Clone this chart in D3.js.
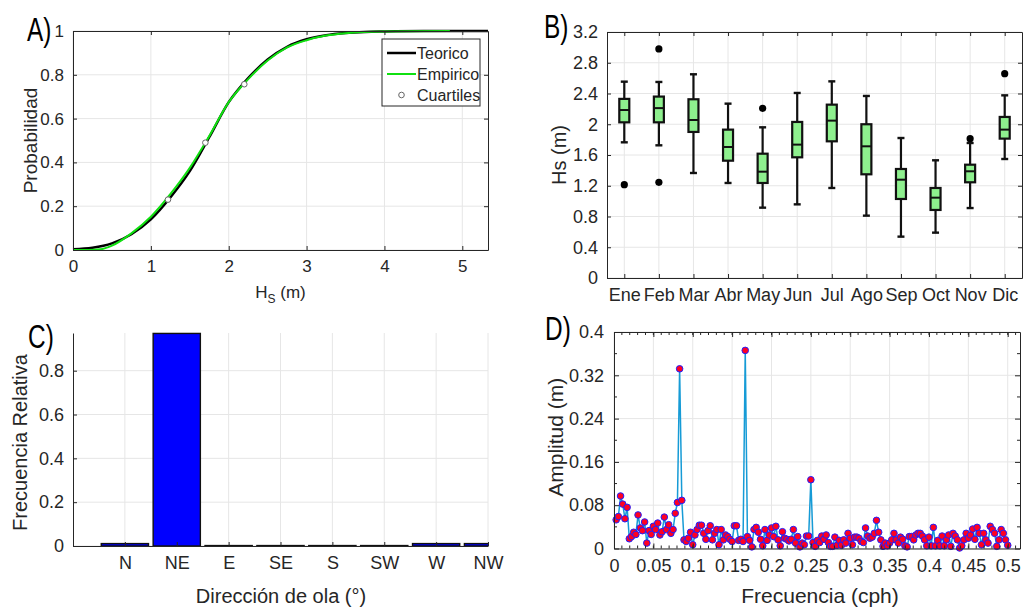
<!DOCTYPE html>
<html>
<head>
<meta charset="utf-8">
<script src="https://cdn.jsdelivr.net/npm/d3@7"></script>
<style>
body { margin: 0; background: #fff; }
svg text { font-family: "Liberation Sans", Arial, sans-serif; fill: #262626; }
.panel-tag { fill: #000; }
</style>
</head>
<body>
<svg id="fig" width="1023" height="609"></svg>
<script>
// ---- A) distribucion de Hs
var hsTeo = [0, 0.25, 0.5, 0.75, 1.0, 1.25, 1.5, 1.75, 2.0, 2.25, 2.5, 2.75, 3.0, 3.25, 3.5, 3.75, 4.0, 4.5, 5.33];
var pTeo  = [0.003, 0.01, 0.03, 0.072, 0.14, 0.24, 0.36, 0.515, 0.675, 0.785, 0.87, 0.928, 0.962, 0.981, 0.991, 0.996, 0.998, 1.0, 1.0];
var hsEmp = [0, 0.2, 0.35, 0.5, 0.75, 1.0, 1.25, 1.5, 1.75, 2.0, 2.25, 2.5, 2.75, 3.0, 3.25, 3.5, 4.0, 4.84];
var pEmp  = [0, 0, 0.003, 0.02, 0.076, 0.152, 0.255, 0.375, 0.52, 0.675, 0.78, 0.865, 0.925, 0.958, 0.979, 0.99, 0.998, 1.0];
var hsCuart = [1.22, 1.7, 2.2];
var pCuart  = [0.23, 0.49, 0.757];

// ---- B) Hs mensual
var meses = ["Ene", "Feb", "Mar", "Abr", "May", "Jun", "Jul", "Ago", "Sep", "Oct", "Nov", "Dic"];
var bigoteInf = [1.765, 1.726, 1.366, 1.236, 0.915, 0.958, 1.171, 0.811, 0.538, 0.59, 0.91, 1.548];
var cuartil1  = [2.025, 2.025, 1.90, 1.526, 1.236, 1.57, 1.778, 1.349, 1.028, 0.885, 1.245, 1.813];
var mediana   = [2.185, 2.21, 2.055, 1.704, 1.383, 1.735, 2.047, 1.713, 1.279, 1.045, 1.388, 1.93];
var cuartil3  = [2.33, 2.36, 2.325, 1.93, 1.617, 2.03, 2.255, 2.0, 1.418, 1.171, 1.474, 2.095];
var bigoteSup = [2.554, 2.55, 2.65, 2.268, 1.96, 2.407, 2.558, 2.368, 1.821, 1.531, 1.756, 2.376];
var atipMes = ["Ene", "Feb", "Feb", "May", "Nov", "Dic"];
var atipVal = [1.214, 2.98, 1.245, 2.207, 1.813, 2.658];

// ---- C) direccion
var direcciones = ["N", "NE", "E", "SE", "S", "SW", "W", "NW"];
var frecRel = [0.011, 0.97, 0.002, 0.002, 0.002, 0.002, 0.011, 0.011];

// ---- D) espectro de amplitud, f = k/360 cph, k = 1..180
var amplitud = [
  0.053, 0.059, 0.097, 0.082, 0.055, 0.076, 0.018, 0.022, 0.030, 0.026,
  0.062, 0.038, 0.033, 0.049, 0.010, 0.033, 0.026, 0.041, 0.035, 0.047,
  0.025, 0.031, 0.058, 0.035, 0.044, 0.028, 0.035, 0.065, 0.085, 0.332,
  0.089, 0.016, 0.013, 0.019, 0.030, 0.007, 0.025, 0.035, 0.043, 0.043,
  0.028, 0.017, 0.033, 0.042, 0.016, 0.028, 0.035, 0.007, 0.035, 0.016,
  0.025, 0.022, 0.017, 0.013, 0.042, 0.042, 0.015, 0.017, 0.013, 0.366,
  0.022, 0.015, 0.003, 0.035, 0.039, 0.030, 0.017, 0.005, 0.035, 0.015,
  0.025, 0.038, 0.022, 0.041, 0.016, 0.005, 0.031, 0.019, 0.017, 0.014,
  0.017, 0.035, 0.010, 0.022, 0.003, 0.010, 0.007, 0.023, 0.023, 0.127,
  0.011, 0.004, 0.015, 0.011, 0.023, 0.017, 0.025, 0.011, 0.004, 0.004,
  0.021, 0.006, 0.015, 0.006, 0.016, 0.010, 0.028, 0.019, 0.007, 0.021,
  0.021, 0.019, 0.013, 0.011, 0.038, 0.023, 0.019, 0.021, 0.028, 0.052,
  0.030, 0.016, 0.004, 0.010, 0.005, 0.010, 0.016, 0.028, 0.016, 0.010,
  0.021, 0.017, 0.005, 0.003, 0.022, 0.022, 0.016, 0.025, 0.028, 0.028,
  0.023, 0.016, 0.005, 0.021, 0.005, 0.039, 0.005, 0.015, 0.005, 0.023,
  0.005, 0.016, 0.025, 0.004, 0.028, 0.023, 0.016, 0.001, 0.005, 0.016,
  0.028, 0.019, 0.025, 0.036, 0.017, 0.039, 0.028, 0.007, 0.028, 0.016,
  0.010, 0.041, 0.035, 0.028, 0.004, 0.016, 0.035, 0.028, 0.016, 0.006
];
var frecuencia = amplitud.map(function(d, i) { return (i + 1) / 360; });

var svg = d3.select("#fig");
var axisCol = "#262626", gridCol = "#e6e6e6";

function panel(left, top, w, h) {
  return svg.append("g").attr("transform", "translate(" + left + "," + top + ")");
}

// grid lines
function grid(g, x, y, w, h, xt, yt) {
  g.append("g").selectAll("line").data(xt).enter().append("line")
    .attr("x1", function(d) { return x(d); }).attr("x2", function(d) { return x(d); })
    .attr("y1", 0).attr("y2", h).attr("stroke", gridCol).attr("stroke-width", 1);
  g.append("g").selectAll("line").data(yt).enter().append("line")
    .attr("y1", function(d) { return y(d); }).attr("y2", function(d) { return y(d); })
    .attr("x1", 0).attr("x2", w).attr("stroke", gridCol).attr("stroke-width", 1);
}

// matlab-like axes: ticks inward, optional box
function axes(g, x, y, w, h, o) {
  var fs = o.fs || 17;
  var bx = d3.axisBottom(x).tickValues(o.xt).tickSizeInner(-o.tl).tickSizeOuter(0).tickPadding(o.tl + 6);
  if (o.xf) bx.tickFormat(o.xf);
  var gx = g.append("g").attr("transform", "translate(0," + h + ")").call(bx);
  var ly = d3.axisLeft(y).tickValues(o.yt).tickSizeInner(-o.tl).tickSizeOuter(0).tickPadding(o.tl + 5);
  if (o.yf) ly.tickFormat(o.yf);
  var gy = g.append("g").call(ly);
  [gx, gy].forEach(function(s) {
    s.attr("font-size", fs).attr("font-family", null);
    s.selectAll("line").attr("stroke", axisCol);
    s.select(".domain").attr("stroke", axisCol);
    s.selectAll("text").attr("fill", axisCol);
  });
  if (o.box) {
    g.append("g").call(d3.axisTop(x).tickValues(o.xt).tickSizeInner(-o.tl).tickSizeOuter(0).tickFormat(""))
      .call(function(s) { s.selectAll("line,path").attr("stroke", axisCol); });
    g.append("g").attr("transform", "translate(" + w + ",0)")
      .call(d3.axisRight(y).tickValues(o.yt).tickSizeInner(-o.tl).tickSizeOuter(0).tickFormat(""))
      .call(function(s) { s.selectAll("line,path").attr("stroke", axisCol); });
  }
  if (o.xm) {
    [0, h].forEach(function(yy) {
      g.append("g").selectAll("line").data(o.xm).enter().append("line")
        .attr("x1", function(d) { return x(d); }).attr("x2", function(d) { return x(d); })
        .attr("y1", yy).attr("y2", yy === 0 ? 3 : h - 3).attr("stroke", axisCol);
    });
  }
  if (o.ym) {
    [0, w].forEach(function(xx) {
      g.append("g").selectAll("line").data(o.ym).enter().append("line")
        .attr("y1", function(d) { return y(d); }).attr("y2", function(d) { return y(d); })
        .attr("x1", xx).attr("x2", xx === 0 ? 3 : w - 3).attr("stroke", axisCol);
    });
  }
  return { gx: gx, gy: gy };
}

function ylabel(x, y, txt, fs) {
  svg.append("text").attr("transform", "translate(" + x + "," + y + ") rotate(-90)")
    .attr("text-anchor", "middle").attr("font-size", fs).text(txt);
}
// narrow panel letters
function tag(x, y, txt) {
  svg.append("text").attr("class", "panel-tag")
    .attr("transform", "translate(" + x + "," + y + ") scale(0.74,1)")
    .attr("font-size", 33).text(txt);
}
var fmt = function(d) { return d3.format("")(+d.toFixed(3)); };

// ================= A =================
(function() {
  var L = 73, T = 31, W = 415, H = 219;
  var g = panel(L, T, W, H);
  var x = d3.scaleLinear().domain([0, 5.33]).range([0, W]);
  var y = d3.scaleLinear().domain([0, 1]).range([H, 0]);
  var xt = [0, 1, 2, 3, 4, 5], yt = [0, 0.2, 0.4, 0.6, 0.8, 1];
  grid(g, x, y, W, H, xt, yt);
  var line = d3.line().x(function(d) { return x(d[0]); }).y(function(d) { return y(d[1]); }).curve(d3.curveMonotoneX);
  g.append("path").datum(d3.zip(hsTeo, pTeo)).attr("d", line)
    .attr("fill", "none").attr("stroke", "#000").attr("stroke-width", 2.5);
  g.append("path").datum(d3.zip(hsEmp, pEmp)).attr("d", line)
    .attr("fill", "none").attr("stroke", "#10e010").attr("stroke-width", 2);
  g.selectAll(".q").data(d3.zip(hsCuart, pCuart)).enter().append("circle")
    .attr("cx", function(d) { return x(d[0]); }).attr("cy", function(d) { return y(d[1]); })
    .attr("r", 2.8).attr("fill", "#fff").attr("stroke", "#666").attr("stroke-width", 1);
  axes(g, x, y, W, H, { xt: xt, yt: yt, tl: 4, fs: 17, box: true, xf: fmt, yf: fmt });

  // legend
  var lg = g.append("g").attr("transform", "translate(" + (382 - L) + "," + (39 - T) + ")");
  lg.append("rect").attr("width", 98).attr("height", 67).attr("fill", "#fff").attr("stroke", axisCol).attr("stroke-width", 1);
  var items = [["Teorico", "line", "#000", 2.5], ["Empirico", "line", "#10e010", 2], ["Cuartiles", "dot", "#666", 1]];
  items.forEach(function(it, i) {
    var yy = 14 + i * 21;
    if (it[1] === "line") {
      lg.append("line").attr("x1", 5).attr("x2", 34).attr("y1", yy).attr("y2", yy)
        .attr("stroke", it[2]).attr("stroke-width", it[3]);
    } else {
      lg.append("circle").attr("cx", 19.5).attr("cy", yy).attr("r", 2.8)
        .attr("fill", "#fff").attr("stroke", it[2]);
    }
    lg.append("text").attr("x", 35).attr("y", yy + 6).attr("font-size", 16).attr("fill", "#000").text(it[0]);
  });

  ylabel(37, T + H / 2, "Probabilidad", 19);
  var xl = svg.append("text").attr("x", L + W / 2).attr("y", 298).attr("text-anchor", "middle").attr("font-size", 17);
  xl.append("tspan").text("H");
  xl.append("tspan").attr("font-size", 12).attr("dy", 5).text("S");
  xl.append("tspan").attr("dy", -5).text(" (m)");
  tag(27, 41, "A)");
})();

// ================= B =================
(function() {
  var L = 607, T = 32, W = 415, H = 246;
  var g = panel(L, T, W, H);
  var x = d3.scaleLinear().domain([0.5, 12.5]).range([0, W]);
  var y = d3.scaleLinear().domain([0, 3.2]).range([H, 0]);
  var pos = d3.range(1, 13);
  var yt = d3.range(0, 3.21, 0.4).map(function(d) { return +d.toFixed(1); });
  grid(g, x, y, W, H, pos, yt);
  var bw = 10, cw = 7;
  var data = meses.map(function(m, i) {
    return { m: m, p: i + 1, lo: bigoteInf[i], q1: cuartil1[i], md: mediana[i], q3: cuartil3[i], hi: bigoteSup[i] };
  });
  var bx = g.selectAll(".bx").data(data).enter().append("g");
  bx.append("line").attr("x1", function(d) { return x(d.p); }).attr("x2", function(d) { return x(d.p); })
    .attr("y1", function(d) { return y(d.hi); }).attr("y2", function(d) { return y(d.lo); })
    .attr("stroke", "#111").attr("stroke-width", 2.2);
  ["hi", "lo"].forEach(function(k) {
    bx.append("line").attr("x1", function(d) { return x(d.p) - cw / 2; }).attr("x2", function(d) { return x(d.p) + cw / 2; })
      .attr("y1", function(d) { return y(d[k]); }).attr("y2", function(d) { return y(d[k]); })
      .attr("stroke", "#111").attr("stroke-width", 2.4);
  });
  bx.append("rect").attr("x", function(d) { return x(d.p) - bw / 2; }).attr("width", bw)
    .attr("y", function(d) { return y(d.q3); }).attr("height", function(d) { return y(d.q1) - y(d.q3); })
    .attr("fill", "#8ef08e").attr("stroke", "#111").attr("stroke-width", 2.2);
  bx.append("line").attr("x1", function(d) { return x(d.p) - bw / 2; }).attr("x2", function(d) { return x(d.p) + bw / 2; })
    .attr("y1", function(d) { return y(d.md); }).attr("y2", function(d) { return y(d.md); })
    .attr("stroke", "#111").attr("stroke-width", 2);
  g.selectAll(".out").data(d3.zip(atipMes, atipVal)).enter().append("circle")
    .attr("cx", function(d) { return x(meses.indexOf(d[0]) + 1); }).attr("cy", function(d) { return y(d[1]); })
    .attr("r", 3.6).attr("fill", "#000");
  axes(g, x, y, W, H, { xt: pos, yt: yt, tl: 4, fs: 18, box: true,
    xf: function(d) { return meses[d - 1]; }, yf: fmt });
  ylabel(566, T + H / 2, "Hs (m)", 20);
  tag(544, 38, "B)");
})();

// ================= C =================
(function() {
  var L = 73, T = 333, W = 415, H = 213;
  var g = panel(L, T, W, H);
  var x = d3.scaleLinear().domain([0, 8]).range([0, W]);
  var y = d3.scaleLinear().domain([0, 0.972]).range([H, 0]);
  var pos = d3.range(1, 9), yt = [0, 0.2, 0.4, 0.6, 0.8];
  grid(g, x, y, W, H, pos, yt);
  svg.append("defs").append("clipPath").attr("id", "clipC").append("rect").attr("width", W).attr("height", H + 3).attr("y", -3);
  var bw = (x(1) - x(0)) * 0.91;
  g.append("g").attr("clip-path", "url(#clipC)").selectAll("rect").data(frecRel).enter().append("rect")
    .attr("x", function(d, i) { return x(i + 1) - bw / 2; }).attr("width", bw)
    .attr("y", function(d) { return y(d); }).attr("height", function(d) { return y(0) - y(d); })
    .attr("fill", "#0000ff").attr("stroke", "#111").attr("stroke-width", 1.4);
  axes(g, x, y, W, H, { xt: pos, yt: yt, tl: 4, fs: 18,
    xf: function(d) { return direcciones[d - 1]; }, yf: fmt });
  ylabel(27, T + H / 2 + 3, "Frecuencia Relativa", 20);
  svg.append("text").attr("x", 281).attr("y", 603).attr("text-anchor", "middle").attr("font-size", 20).text("Dirección de ola (°)");
  tag(28, 348, "C)");
})();

// ================= D =================
(function() {
  var L = 614, T = 332, W = 406, H = 216.5;
  var g = panel(L, T, W, H);
  var x = d3.scaleLinear().domain([0, 0.5156]).range([0, W]);
  var y = d3.scaleLinear().domain([0, 0.4]).range([H, 0]);
  var xt = d3.range(0, 0.501, 0.05).map(function(d) { return +d.toFixed(2); });
  var yt = [0, 0.08, 0.16, 0.24, 0.32, 0.4];
  grid(g, x, y, W, H, xt, yt);
  var pts = d3.zip(frecuencia, amplitud);
  g.append("path").datum(pts)
    .attr("d", d3.line().x(function(d) { return x(d[0]); }).y(function(d) { return y(d[1]); }))
    .attr("fill", "none").attr("stroke", "#169bd6").attr("stroke-width", 1.5);
  g.selectAll(".pt").data(pts).enter().append("circle")
    .attr("cx", function(d) { return x(d[0]); }).attr("cy", function(d) { return y(d[1]); })
    .attr("r", 3.3).attr("fill", "#ff0022").attr("stroke", "#2020ff").attr("stroke-width", 1);
  var xm = d3.range(0.01, 0.515, 0.01).map(function(d) { return +d.toFixed(2); });
  var ym = [0.04, 0.12, 0.2, 0.28, 0.36];
  axes(g, x, y, W, H, { xt: xt, yt: yt, tl: 5, fs: 18, box: true, xm: xm, ym: ym, xf: fmt, yf: fmt });
  ylabel(563, T + H / 2 - 3, "Amplitud (m)", 21);
  svg.append("text").attr("x", 820).attr("y", 603).attr("text-anchor", "middle").attr("font-size", 21).text("Frecuencia (cph)");
  tag(545, 340, "D)");
})();
</script>
</body>
</html>
